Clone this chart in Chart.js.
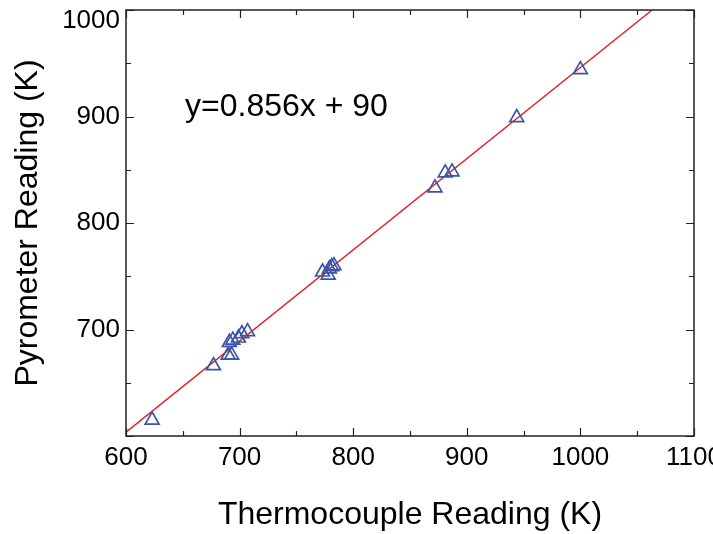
<!DOCTYPE html>
<html>
<head>
<meta charset="utf-8">
<script src="https://cdn.jsdelivr.net/npm/chart.js@4/dist/chart.umd.min.js"></script>
<style>
  html, body { margin: 0; padding: 0; background: #fff; }
  #wrap { width: 713px; height: 534px; }
</style>
</head>
<body>
<div id="wrap"><canvas id="c" width="713" height="534"></canvas></div>
<script>
// ---- data ----
const thermocouple = [623, 677, 690, 693, 691, 694, 699, 702, 707, 773, 778, 779, 781, 783, 872, 881, 887, 944, 1000];
const pyrometer    = [615, 666, 676, 676, 688, 690, 692, 696, 698, 754, 751, 757, 759, 760, 833, 847, 848, 899, 944];
const fitX = [600, 1100];
const fitY = [603.6, 1031.6];
const xTicks = [600, 700, 800, 900, 1000, 1100];
const yTicks = [700, 800, 900, 1000];
const equationText = 'y=0.856x + 90';
const xTitle = 'Thermocouple Reading (K)';
const yTitle = 'Pyrometer Reading (K)';

const FONT = '"Liberation Sans", Arial, Helvetica, sans-serif';

const pts = thermocouple.map((x, i) => ({ x: x, y: pyrometer[i] }));
const fitPts = fitX.map((x, i) => ({ x: x, y: fitY[i] }));

const framePlugin = {
  id: 'frame',
  afterDatasetsDraw(chart) {
    const { ctx, chartArea: a, scales } = chart;
    const xs = scales.x, ys = scales.y;
    ctx.save();
    ctx.strokeStyle = '#222';
    ctx.lineWidth = 1.5;
    ctx.strokeRect(a.left, a.top, a.right - a.left, a.bottom - a.top);
    ctx.lineWidth = 1.2;
    ctx.beginPath();
    for (let v = xs.min; v <= xs.max + 0.01; v += 50) {
      const px = Math.round(xs.getPixelForValue(v)) + 0.5;
      const len = (v % 100 === 0) ? 8 : 5;
      ctx.moveTo(px, a.bottom); ctx.lineTo(px, a.bottom - len);
      ctx.moveTo(px, a.top); ctx.lineTo(px, a.top + len);
    }
    for (let v = ys.min; v <= ys.max + 0.01; v += 50) {
      const py = Math.round(ys.getPixelForValue(v)) + 0.5;
      const len = (v % 100 === 0) ? 8 : 5;
      ctx.moveTo(a.left, py); ctx.lineTo(a.left + len, py);
      ctx.moveTo(a.right, py); ctx.lineTo(a.right - len, py);
    }
    ctx.stroke();
    // equation annotation
    ctx.fillStyle = '#000';
    ctx.font = '32px ' + FONT;
    ctx.textAlign = 'left';
    ctx.textBaseline = 'middle';
    ctx.fillText(equationText, xs.getPixelForValue(652), ys.getPixelForValue(909));
    ctx.restore();
  }
};

new Chart(document.getElementById('c'), {
  type: 'scatter',
  data: {
    datasets: [
      {
        type: 'line',
        label: 'fit',
        data: fitPts,
        borderColor: '#e8141c',
        borderWidth: 1.3,
        pointRadius: 0,
        fill: false,
        clip: 0,
        order: 1
      },
      {
        label: 'data',
        data: pts,
        pointStyle: 'triangle',
        pointRadius: 8,
        pointBorderWidth: 1.7,
        borderColor: '#3b55a8',
        backgroundColor: 'rgba(0,0,0,0)',
        pointBackgroundColor: 'rgba(0,0,0,0)',
        order: 0
      }
    ]
  },
  options: {
    responsive: false,
    animation: false,
    layout: { padding: { top: 10, right: 19, bottom: 0, left: 0 } },
    plugins: { legend: { display: false }, tooltip: { enabled: false } },
    scales: {
      x: {
        type: 'linear',
        min: 600, max: 1100,
        afterBuildTicks(s) { s.ticks = xTicks.map(v => ({ value: v })); },
        afterFit(s) { s.height = 98; s.paddingLeft = 0; s.paddingRight = 0; },
        grid: { display: false, drawTicks: false },
        border: { display: false },
        ticks: { color: '#000', font: { family: FONT, size: 26 }, padding: 6, maxRotation: 0,
                 callback: (v) => String(v) },
        title: { display: true, text: xTitle, color: '#000', font: { family: FONT, size: 32 }, padding: { top: 0, bottom: 0 } }
      },
      y: {
        type: 'linear',
        min: 600, max: 1000,
        afterBuildTicks(s) { s.ticks = yTicks.map(v => ({ value: v })); },
        afterFit(s) { s.width = 126; s.paddingTop = 0; s.paddingBottom = 0; },
        grid: { display: false, drawTicks: false },
        border: { display: false },
        ticks: {
          color: '#000',
          font: { family: FONT, size: 26, lineHeight: 0.8 },
          padding: 6,
          callback: (v) => v === 1000 ? ['', '1000'] : String(v)
        },
        title: { display: true, text: yTitle, color: '#000', font: { family: FONT, size: 32 }, padding: { top: 9, bottom: 0 } }
      }
    }
  },
  plugins: [framePlugin]
});
</script>
</body>
</html>
